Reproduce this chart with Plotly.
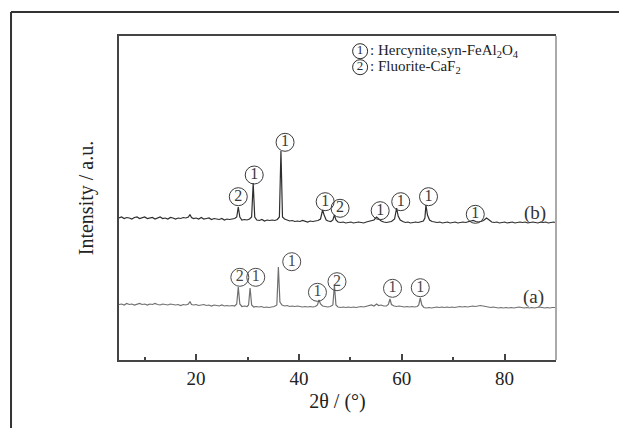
import plotly.graph_objects as go

# ---- data (2θ in degrees, intensity in arbitrary units) ----
b_x = [5.0,5.5,6.0,6.5,7.0,7.5,8.0,8.5,9.0,9.5,10.0,10.5,11.0,11.5,12.0,12.5,13.0,13.5,14.0,14.5,
       15.0,15.5,16.0,16.5,17.0,17.5,18.0,18.5,18.8,19.1,19.5,20.0,20.5,21.0,21.5,22.0,22.5,23.0,23.5,
       24.0,24.5,25.0,25.5,26.0,26.5,27.0,27.5,27.9,28.2,28.5,28.9,29.4,29.9,30.4,30.8,31.1,31.4,31.8,
       32.3,32.8,33.3,33.8,34.3,34.8,35.3,35.8,36.2,36.5,36.8,37.2,37.7,38.2,38.7,39.2,39.7,40.2,40.7,
       41.2,41.7,42.2,42.7,43.2,43.7,44.2,44.6,44.9,45.3,45.7,46.2,46.6,46.9,47.2,47.6,48.1,48.6,49.1,
       49.6,50.1,50.6,51.1,51.6,52.1,52.6,53.1,53.6,54.1,54.6,55.1,55.5,56.0,56.5,57.0,57.5,58.0,58.6,
       59.0,59.3,59.7,60.2,60.7,61.2,61.7,62.2,62.7,63.2,63.7,64.2,64.5,64.7,65.0,65.4,65.9,66.4,66.9,
       67.4,67.9,68.4,68.9,69.4,69.9,70.4,70.9,71.4,71.9,72.4,72.9,73.4,73.9,74.4,74.9,75.4,75.9,76.5,
       77.0,77.5,78.0,78.5,79.0,79.5,80.0,80.5,81.0,81.5,82.0,82.5,83.0,83.5,84.0,84.5,85.0,85.5,86.0,
       86.5,87.0,87.5,88.0,88.5,89.0,89.5,90.0]
b_y = [142,143,141.5,142.5,142,141,142.5,143,141.5,142,143,141.5,142,142.5,141,142,143,141.5,142,141,
       142.5,142,141,142,141.5,142.5,142,143,145.5,142.5,141.5,142,141,142.5,141,141.5,142,140.5,141.5,
       141,140.5,141.5,140,141,140.5,141,141.5,143,153,143,140,140.5,140,141,143,177,143,140,
       139.5,140.5,139,140,139.5,140,139.5,140.5,143,209,143,141,140,139,139.5,138.5,139,138.5,139.5,
       138.5,138,139,138.5,139,139.5,141,150,145,140,139,138.5,140,145,140,138,137.5,138,137,
       137.5,138,137,137.5,138,137.5,137,138,138.5,139,140,143,141,139,138,137.5,138,138.5,141,
       152,144,140,138.5,137.5,138,137,137.5,138,137.5,138,139,142,155,145,140,138.5,138,137.5,
       138,137,137.5,138,137,137.5,138,137,137.5,138,137.5,138,138.5,139.5,138.5,138,138.5,139.5,142,
       139.5,138,137.5,138,137,137.5,138,137,137.5,138,137,137.5,138,137.5,138,137,137.5,138,137.5,
       137,138,137.5,138,137,137.5,138,137.5]

a_x = [5.0,5.5,6.0,6.5,7.0,7.5,8.0,8.5,9.0,9.5,10.0,10.5,11.0,11.5,12.0,12.5,13.0,13.5,14.0,14.5,
       15.0,15.5,16.0,16.5,17.0,17.5,18.0,18.5,18.8,19.1,19.5,20.0,20.5,21.0,21.5,22.0,22.5,23.0,23.5,
       24.0,24.5,25.0,25.5,26.0,26.5,27.0,27.5,27.9,28.2,28.5,28.9,29.4,29.9,30.2,30.5,30.8,31.2,31.7,
       32.2,32.7,33.2,33.7,34.2,34.7,35.2,35.7,36.0,36.3,36.7,37.2,37.7,38.2,38.7,39.2,39.7,40.2,40.7,
       41.2,41.7,42.2,42.7,43.2,43.6,43.9,44.2,44.6,45.1,45.6,46.1,46.6,46.9,47.2,47.6,48.1,48.6,49.1,
       49.6,50.1,50.6,51.1,51.6,52.1,52.6,53.1,53.6,54.1,54.6,55.1,55.5,56.0,56.5,57.0,57.4,57.7,58.0,
       58.5,59.0,59.5,60.0,60.5,61.0,61.5,62.0,62.5,63.0,63.3,63.6,63.9,64.3,64.8,65.3,65.8,66.3,66.8,
       67.3,67.8,68.3,68.8,69.3,69.8,70.3,70.8,71.3,71.8,72.3,72.8,73.3,73.8,74.3,74.8,75.3,75.8,76.3,
       76.8,77.3,77.8,78.3,78.8,79.3,79.8,80.3,80.8,81.3,81.8,82.3,82.8,83.3,83.8,84.3,84.8,85.3,85.8,
       86.3,86.8,87.3,87.8,88.3,88.8,89.3,89.8,90.0]
a_y = [55.5,56,55,56.5,55.5,56,55,56,56.5,55.5,56,55,56,55.5,56.5,55.5,55,56,55.5,55,
       56,55.5,55,55.5,54.5,55.5,55,56,58.5,55.5,55,55.5,54.5,55,55.5,54.5,55,54,55,
       54.5,54,55,54,54.5,54,54.5,54,56,73,56,53.5,54,53.5,55,72,55,53,53.5,
       53,53.5,52.5,53,52.5,53,53.5,55,93,58,55,54,54.5,53.5,54,53.5,54,53.5,53,
       53.5,53,53.5,53,53.5,55,60,56,54,53.5,53,53.5,55,75,55,53,52.5,53,52.5,
       53,52.5,53,52.5,53,53.5,53,53.5,54,55,54,56,54.5,55,54,54,55.5,61,55.5,
       54,53.5,54,53.5,53,53.5,53,53.5,53,53.5,55,62,55,52.5,52,52.5,52,52.5,53,
       52.5,53,52.5,53,52.5,53,52.5,53,53.5,53,53.5,53,53.5,54,53.5,54,54.5,54,53.5,
       53,52.5,53,52.5,52,52.5,52,52.5,52,52.5,52,52.5,53,52.5,52,52.5,52,52.5,52,
       52.5,53,52.5,52,52.5,52,52.5,52,52.5]

# phase markers: circled numbers (1 = hercynite, 2 = fluorite)
b_lab_x = [28.2, 31.3, 37.3, 45.1, 48.0, 55.8, 59.8, 65.2, 74.3]
b_lab_y = [163.3, 185, 217.7, 158.3, 151.7, 149.3, 158.3, 163.3, 145.7]
b_lab_t = ["2", "1", "1", "1", "2", "1", "1", "1", "1"]

a_lab_x = [28.5, 31.6, 38.6, 43.6, 47.4, 58.2, 63.6]
a_lab_y = [82.7, 82.7, 98.3, 67.7, 78.3, 71.7, 72.3]
a_lab_t = ["2", "1", "1", "1", "2", "1", "1"]

key_x = [51.9, 51.9]
key_y = [308.8, 292.8]
key_t = ["1", "2"]
key_names = ["Hercynite,syn-FeAl<sub>2</sub>O<sub>4</sub>", "Fluorite-CaF<sub>2</sub>"]

curve_names = ["(b)", "(a)"]
curve_name_x = [85.9, 85.6]
curve_name_y = [147.3, 62.7]

x_ticks = [20, 40, 60, 80]

FONT = "Liberation Serif"

fig = go.Figure()
fig.add_trace(go.Scatter(x=a_x, y=a_y, mode="lines",
                         line=dict(color="#707070", width=1.2), hoverinfo="skip"))
fig.add_trace(go.Scatter(x=b_x, y=b_y, mode="lines",
                         line=dict(color="#2e2e2e", width=1.2), hoverinfo="skip"))

for xs, ys, ts, col, sz in [(b_lab_x, b_lab_y, b_lab_t, "#3a3a3a", 18),
                            (a_lab_x, a_lab_y, a_lab_t, "#4a4a4a", 18),
                            (key_x, key_y, key_t, "#2a2a2a", 15)]:
    fig.add_trace(go.Scatter(
        x=xs, y=ys, text=ts, mode="markers+text",
        marker=dict(symbol="circle-open", size=sz, color=col, line=dict(width=1, color=col)),
        textposition="middle center",
        textfont=dict(family=FONT, size=sz - 2, color=col),
        hoverinfo="skip"))

for i, name in enumerate(key_names):
    fig.add_annotation(x=key_x[i] + 1.5, y=key_y[i], xref="x", yref="y",
                       text=": " + name, showarrow=False, xanchor="left", yanchor="middle",
                       font=dict(family=FONT, size=15, color="#222"))

for i, name in enumerate(curve_names):
    fig.add_annotation(x=curve_name_x[i], y=curve_name_y[i], xref="x", yref="y",
                       text=name, showarrow=False, xanchor="center", yanchor="middle",
                       font=dict(family=FONT, size=19, color="#333"))

# outer frame (left and top edge of the figure box)
fig.add_shape(type="line", xref="paper", yref="paper", x0=-0.2471, x1=-0.2471, y0=1.0741, y1=-0.3,
              line=dict(color="#333", width=2))
fig.add_shape(type="line", xref="paper", yref="paper", x0=-0.2471, x1=1.3, y0=1.0741, y1=1.0741,
              line=dict(color="#333", width=2))
# right border of plot (lighter)
fig.add_shape(type="line", xref="paper", yref="paper", x0=1, x1=1, y0=0, y1=1,
              line=dict(color="#aaaaaa", width=2))

fig.update_layout(
    width=619, height=428,
    margin=dict(l=119, r=63, t=36, b=68),
    paper_bgcolor="white", plot_bgcolor="white",
    showlegend=False,
    font=dict(family=FONT, size=18, color="#222"),
    xaxis=dict(range=[5, 90], tickvals=x_ticks, ticks="inside", ticklen=6, tickwidth=1.5,
               tickcolor="#444", showline=True, linecolor="#444", linewidth=2, mirror=True,
               showgrid=False, zeroline=False,
               minor=dict(dtick=10, tick0=0, ticks="inside", ticklen=3, tickcolor="#444", tickwidth=1.5),
               tickfont=dict(family=FONT, size=19, color="#222"),
               title=dict(text="2θ / (°)", font=dict(family=FONT, size=20, color="#222"), standoff=6)),
    yaxis=dict(range=[0, 324], showticklabels=False, ticks="", showline=True, linecolor="#444",
               linewidth=2, showgrid=False, zeroline=False,
               title=dict(text="Intensity / a.u.", font=dict(family=FONT, size=20, color="#222"),
                          standoff=18)),
)

fig.write_html("out.html")
